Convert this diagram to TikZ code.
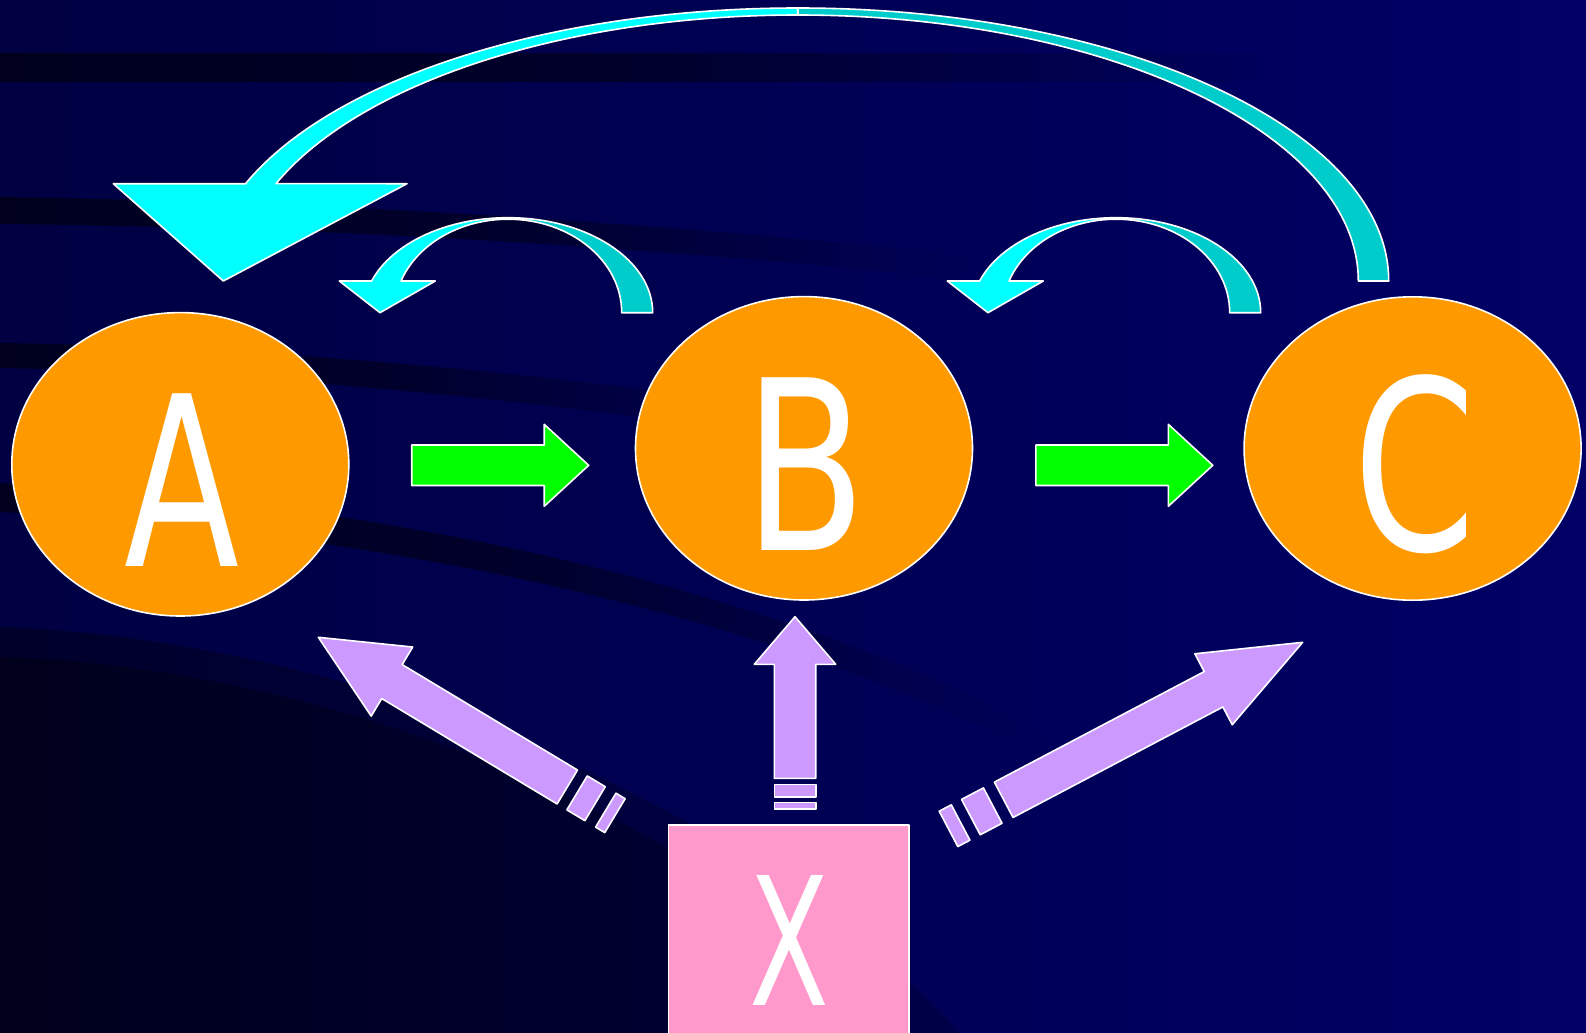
\documentclass[tikz,border=0pt]{standalone}
\usepackage{fontspec}
\newfontfamily\lettfont{DejaVu Sans}
\usetikzlibrary{shapes.geometric}
\definecolor{bgL}{RGB}{0,0,66}
\definecolor{bgR}{RGB}{0,0,102}
\definecolor{bandc}{RGB}{0,0,30}
\definecolor{bandm}{RGB}{0,0,44}
\definecolor{bgA}{RGB}{0,0,95}
\definecolor{bgB}{RGB}{0,0,89}
\definecolor{bgC}{RGB}{0,0,84}
\definecolor{rOneL}{RGB}{0,0,42}
\definecolor{rOneR}{RGB}{0,0,72}
\definecolor{rTwoL}{RGB}{0,0,28}
\definecolor{rTwoR}{RGB}{0,0,56}
\definecolor{orng}{RGB}{255,153,0}
\definecolor{grn}{RGB}{0,255,0}
\definecolor{cyanL}{RGB}{0,255,255}
\definecolor{cyanD}{RGB}{0,204,204}
\definecolor{purp}{RGB}{204,153,255}
\definecolor{pnk}{RGB}{255,153,204}
\begin{document}
\begin{tikzpicture}[x=0.5pt,y=0.5pt,line join=round,
  outl/.style={draw=white,line width=0.8pt},
  ell/.style={ellipse,outl,fill=orng,inner sep=0pt,minimum width=168.5pt,minimum height=151.7pt},
  lett/.style={text=white,inner sep=0pt,anchor=base,font=\lettfont\fontsize{118.5}{120}\selectfont},
  grnshape/.style={outl,fill=grn},
  purpshape/.style={outl,fill=purp},
  cyanlight/.style={outl,fill=cyanL},
  cyandark/.style={outl,fill=cyanD}]
\useasboundingbox (0,0) rectangle (1586,-1033);
% background
\shade[left color=bgL,right color=bgR] (0,0) rectangle (1586,-1033);
\shade[left color=bandc,right color=bgA,middle color=bandm] (0,-53) rectangle (1300,-81);
\shade[left color=bandc,right color=bgB,middle color=bandm] (0,-197) .. controls (400,-203) and (700,-228) .. (1000,-258) -- (1000,-282) .. controls (700,-253) and (400,-228) .. (0,-224) -- cycle;
\shade[left color=bandc,right color=bgC,middle color=bandm] (0,-343) .. controls (250,-346) and (550,-372) .. (800,-412) -- (800,-440) .. controls (550,-400) and (250,-372) .. (0,-368) -- cycle;
\shade[left color=bandc,right color=bgB,middle color=bandm] (0,-483) .. controls (350,-500) and (750,-575) .. (1050,-735) -- (1050,-760) .. controls (750,-603) and (350,-530) .. (0,-512) -- cycle;
\shade[left color=rOneL,right color=rOneR] (0,-627) .. controls (350,-640) and (750,-800) .. (960,-1033) -- (0,-1033) -- cycle;
\shade[left color=rTwoL,right color=rTwoR] (0,-657) .. controls (350,-668) and (720,-830) .. (910,-1033) -- (0,-1033) -- cycle;
% big curved arrow C -> A
\path[cyandark] (1388.7,-281) arc[start angle=0,end angle=90,x radius=591,y radius=273] -- (797.7,-15) arc[start angle=90,end angle=0,x radius=560.6,y radius=266] -- cycle;
\path[cyanlight] (797.7,-8) arc[start angle=90,end angle=159.12,x radius=591,y radius=273] -- (113.3,-183.7) -- (223.3,-281) -- (407,-183.7) -- ([shift={(797.7,-281)}]158.54:560.6 and 266) arc[start angle=158.54,end angle=90,x radius=560.6,y radius=266] -- cycle;
% small curved arrows B -> A and C -> B
\foreach \sh in {0,608}{
\begin{scope}[shift={(\sh,0)}]
\path[cyandark] (652.7,-312.7) arc[start angle=0,end angle=90,x radius=144.7,y radius=95] -- (508,-219.2) arc[start angle=90,end angle=0,x radius=113.7,y radius=93.5] -- cycle;
\path[cyanlight] (508,-217.7) arc[start angle=90,end angle=160.5,x radius=144.7,y radius=95] -- (339.3,-281) -- (380,-312.7) -- (435.3,-281) -- ([shift={(508,-312.7)}]160.18:113.7 and 93.5) arc[start angle=160.18,end angle=90,x radius=113.7,y radius=93.5] -- cycle;
\end{scope}}
% ellipses
\node[ell] (A) at (180.3,-464.3) {};
\node[ell] (B) at (804,-448.3) {};
\node[ell] (C) at (1412.6,-448.5) {};
\node[lett,xscale=0.71] (lA) at (182,-566) {A};
\node[lett,xscale=0.75] (lB) at (805.6,-550) {B};
\node[lett,xscale=0.74] (lC) at (1414.6,-550) {C};
% green arrows
\foreach \sh in {0,624.1}{
\path[grnshape,shift={(\sh,0)}] (411.7,-445) -- (544.2,-445) -- (544.2,-424.3) -- (588.7,-465.3) -- (544.2,-506.3) -- (544.2,-485.5) -- (411.7,-485.5) -- cycle;}
% X box (runs off the bottom edge)
\coordinate (Xnw) at (668.3,-825);
\coordinate (Xse) at (909,-1034);
\path[outl,fill=pnk] (Xnw) rectangle (Xse);
\node[lett,font=\lettfont\fontsize{89.2}{90}\selectfont,xscale=0.653] (lX) at (789,-1005) {X};
% purple striped arrows
\begin{scope}[shift={(567.3,-787)},rotate=148.98]
\path[purpshape] (0,-19.8) -- (204.6,-19.8) -- (204.6,-40.3) -- (290.5,0) -- (204.6,40.3) -- (204.6,19.8) -- (0,19.8) -- cycle;
\path[purpshape] (-11.4,-19.8) rectangle (-32.4,19.8);
\path[purpshape] (-44.9,-19.8) rectangle (-55.6,19.8);
\end{scope}
\begin{scope}[shift={(795,-778.3)},rotate=90]
\path[purpshape] (0,-20.7) -- (114,-20.7) -- (114,-40.7) -- (161.6,0) -- (114,40.7) -- (114,20.7) -- (0,20.7) -- cycle;
\path[purpshape] (-6,-20.7) rectangle (-18.4,20.7);
\path[purpshape] (-24,-20.7) rectangle (-30.7,20.7);
\end{scope}
\begin{scope}[shift={(1003.7,-799.8)},rotate=27.78]
\path[purpshape] (0,-20) -- (237.2,-20) -- (237.2,-40.1) -- (337.9,0) -- (237.2,40.1) -- (237.2,20) -- (0,20) -- cycle;
\path[purpshape] (-12.4,-20) rectangle (-37.1,20);
\path[purpshape] (-48.7,-20) rectangle (-62.4,20);
\end{scope}
\end{tikzpicture}
\end{document}
